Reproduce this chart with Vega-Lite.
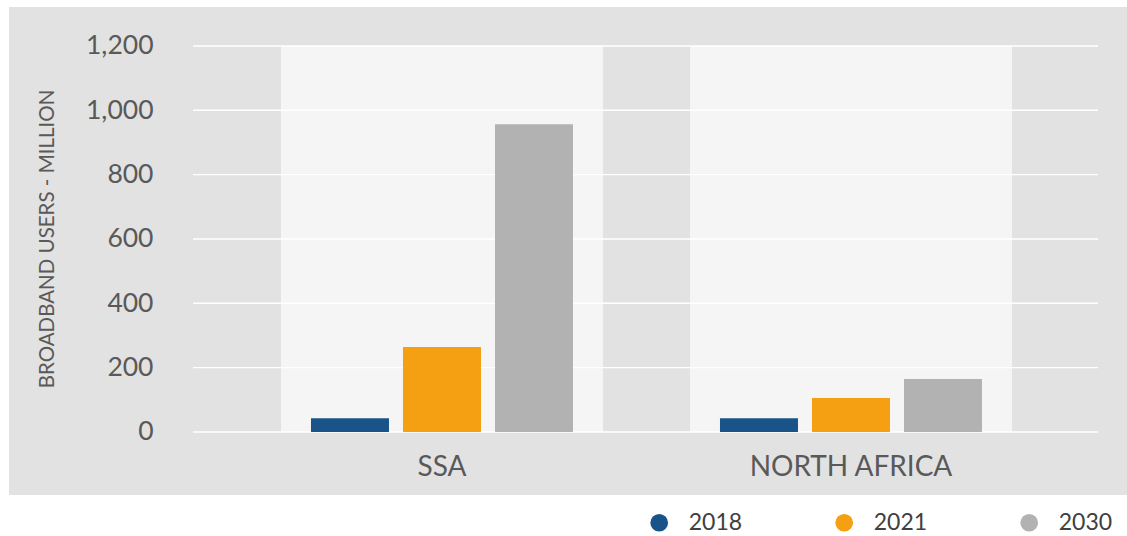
{
  "$schema": "https://vega.github.io/schema/vega-lite/v6.json",
  "width": 1118,
  "height": 488,
  "autosize": {"type": "none"},
  "padding": {"left": 9, "top": 7, "right": 0, "bottom": 41},
  "background": "white",
  "config": {"view": {"fill": "#e2e2e2", "stroke": null}, "font": "Lato"},
  "datasets": {
    "gridlines": [{"value": 0}, {"value": 200}, {"value": 400}, {"value": 600}, {"value": 800}, {"value": 1000}, {"value": 1200}],
    "users": [
      {"region": "SSA", "year": "2018", "value": 43},
      {"region": "SSA", "year": "2021", "value": 264},
      {"region": "SSA", "year": "2030", "value": 957},
      {"region": "NORTH AFRICA", "year": "2018", "value": 43},
      {"region": "NORTH AFRICA", "year": "2021", "value": 106},
      {"region": "NORTH AFRICA", "year": "2030", "value": 165}
    ]
  },
  "layer": [
    {
      "data": {"name": "users"},
      "transform": [{"aggregate": [{"op": "count", "as": "n"}], "groupby": ["region"]}],
      "mark": {"type": "rect", "color": "#f5f5f5"},
      "encoding": {
        "x": {
          "field": "region",
          "type": "nominal",
          "scale": {"domain": ["SSA", "NORTH AFRICA"], "paddingInner": 0.2127, "paddingOuter": 0.4731, "align": 0.7028},
          "axis": null
        },
        "y": {"datum": 1200, "type": "quantitative", "scale": {"domain": [-195.9, 1321.2], "nice": false, "zero": false}},
        "y2": {"datum": 0}
      }
    },
    {
      "data": {"name": "gridlines"},
      "mark": {"type": "rule", "color": "white", "strokeWidth": 1.4},
      "encoding": {
        "x": {"datum": 0, "type": "quantitative", "scale": {"domain": [-0.20331, 1.03204], "nice": false, "zero": false}, "axis": null},
        "x2": {"datum": 1},
        "y": {"field": "value", "type": "quantitative"}
      }
    },
    {
      "data": {"name": "users"},
      "mark": {"type": "bar"},
      "encoding": {
        "x": {
          "field": "region",
          "type": "nominal",
          "scale": {"domain": ["SSA", "NORTH AFRICA"], "paddingInner": 0.2127, "paddingOuter": 0.4731, "align": 0.7028},
          "axis": {
            "title": null,
            "domain": false,
            "ticks": false,
            "tickSize": 0,
            "grid": false,
            "labelAngle": 0,
            "labelFont": "Lato",
            "labelFontSize": 28,
            "labelColor": "#595959",
            "labelPadding": 21,
            "labelLimit": 0,
            "offset": -63
          }
        },
        "xOffset": {"field": "year", "type": "nominal", "scale": {"paddingInner": 0.1522, "paddingOuter": 0.3261}},
        "y": {
          "field": "value",
          "type": "quantitative",
          "axis": {
            "title": "BROADBAND USERS - MILLION",
            "values": [0, 200, 400, 600, 800, 1000, 1200],
            "format": ",d",
            "grid": false,
            "domain": false,
            "ticks": false,
            "tickSize": 0,
            "offset": -174,
            "labelPadding": 30,
            "labelFont": "Lato",
            "labelFontSize": 26.5,
            "labelColor": "#595959",
            "titleFont": "Lato",
            "titleFontSize": 20.5,
            "titleFontWeight": "normal",
            "titleColor": "#595959",
            "titleX": -136,
            "titleY": 231.5,
            "titleAngle": 270,
            "titleBaseline": "middle",
            "titleAlign": "center",
            "titleLimit": 0
          }
        },
        "y2": {"datum": 0},
        "color": {
          "field": "year",
          "type": "nominal",
          "scale": {"domain": ["2018", "2021", "2030"], "range": ["#1a5387", "#f5a012", "#b2b2b2"]},
          "legend": {
            "title": null,
            "orient": "none",
            "legendX": 638.7,
            "legendY": 504,
            "direction": "horizontal",
            "symbolType": "circle",
            "symbolSize": 314,
            "symbolStrokeWidth": 0,
            "symbolOpacity": 1,
            "labelFont": "Lato",
            "labelFontSize": 23,
            "labelColor": "#404040",
            "labelOffset": 18,
            "columnPadding": 90,
            "padding": 0
          }
        }
      }
    }
  ],
  "resolve": {"scale": {"x": "independent"}, "axis": {"x": "independent"}}
}
